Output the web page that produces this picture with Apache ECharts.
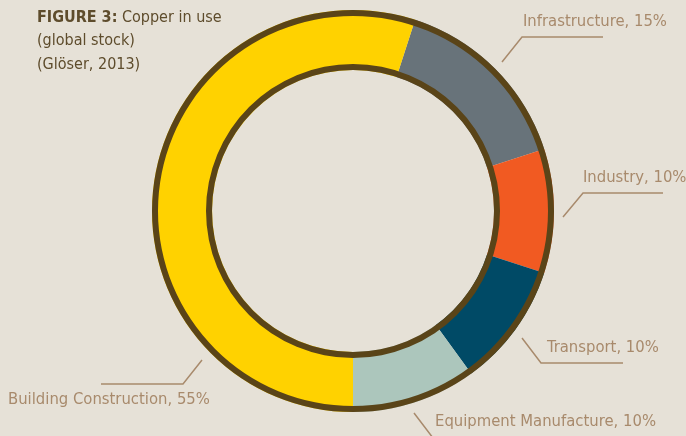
<!DOCTYPE html>
<html>
<head>
<meta charset="utf-8">
<script src="https://cdn.jsdelivr.net/npm/echarts@6/dist/echarts.min.js"></script>
<style>
  html, body { margin: 0; padding: 0; background: #e6e1d7; }
  #main { width: 686px; height: 436px; }
</style>
</head>
<body>
<div id="main"></div>
<script>
// data
const categories = ['Infrastructure', 'Industry', 'Transport', 'Equipment Manufacture', 'Building Construction']
const shares = [15, 10, 10, 10, 55]
const colors = ['#68737a', '#f15a22', '#004a66', '#acc6bc', '#ffd200']

// where each label + leader line sits (text x/y, then line points)
const labelSpots = [
  { x: 523, y: 22, line: [[502, 62], [522, 37], [603, 37]] },
  { x: 583, y: 178, line: [[563, 217], [583, 193], [663, 193]] },
  { x: 547, y: 348, line: [[522, 338], [541, 363], [623, 363]] },
  { x: 435, y: 422, line: [[414, 413], [433, 438], [660, 438]] },
  { x: 8, y: 400, line: [[202, 360], [183, 384], [101, 384]] }
]

const font = '"Liberation Sans Narrow", "DejaVu Sans Condensed", "Open Sans", sans-serif'
const tan = '#a88a6c'
const rim = '#5a4418'
const center = [353, 211]

const chart = echarts.init(document.getElementById('main'))

const pieData = categories.map((name, i) => ({
  name: name,
  value: shares[i],
  itemStyle: { color: colors[i] }
}))

// thin ring used for the dark outline
function rimRing (radius) {
  return {
    type: 'pie',
    silent: true,
    z: 5,
    center: center,
    radius: radius,
    label: { show: false },
    labelLine: { show: false },
    itemStyle: { color: rim },
    data: [{ value: 1, name: '' }]
  }
}

const option = {
  backgroundColor: '#e6e1d7',
  title: {
    left: 32,
    top: 1,
    text: '{b|FIGURE 3:} Copper in use\n(global stock)\n(Glöser, 2013)',
    textStyle: {
      fontFamily: font,
      fontSize: 16,
      fontWeight: 'normal',
      color: '#5e4c2c',
      lineHeight: 23.5,
      rich: {
        b: { fontFamily: font, fontSize: 16, fontWeight: 'bold', color: '#5e4c2c' }
      }
    }
  },
  series: [
    {
      type: 'pie',
      center: center,
      radius: [141, 201],
      startAngle: 72,
      clockwise: true,
      avoidLabelOverlap: false,
      silent: true,
      data: pieData,
      label: {
        show: true,
        position: 'outside',
        formatter: '{b}, {c}%',
        fontFamily: font,
        fontSize: 16.5,
        color: tan
      },
      labelLine: {
        show: true,
        lineStyle: { color: tan, width: 1.5 }
      },
      labelLayout: function (params) {
        const s = labelSpots[params.dataIndex]
        return {
          x: s.x,
          y: s.y,
          align: 'left',
          verticalAlign: 'middle',
          labelLinePoints: s.line
        }
      }
    },
    rimRing([195, 201]),
    rimRing([141, 147])
  ]
}

chart.setOption(option)
</script>
</body>
</html>
